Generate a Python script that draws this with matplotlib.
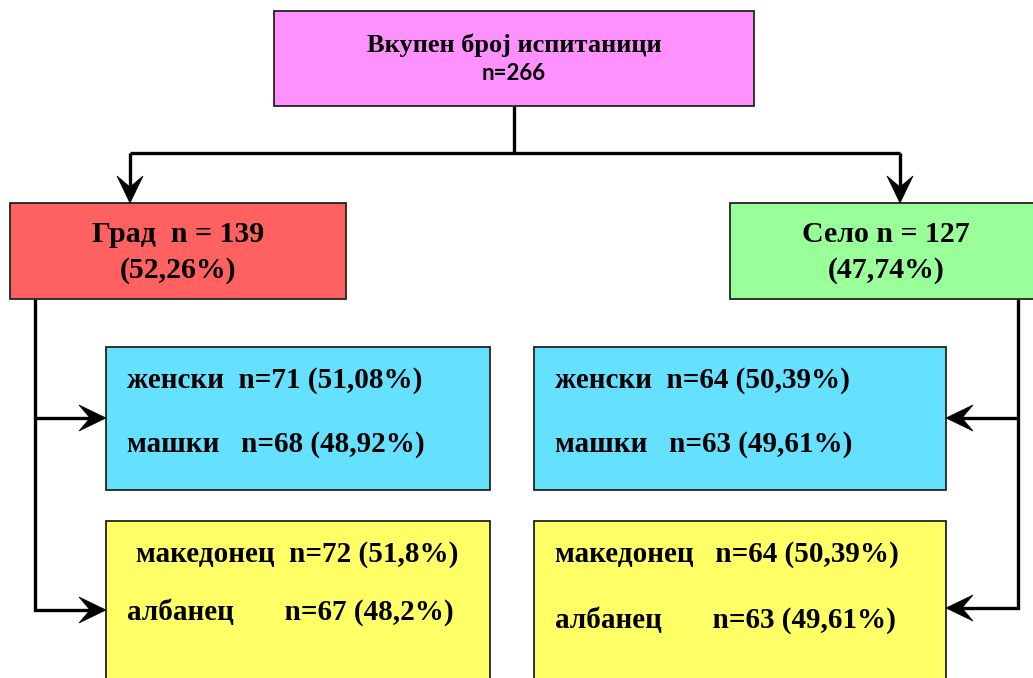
import matplotlib.pyplot as plt
from matplotlib.patches import Rectangle, Polygon

# ---------- data ----------
total_label = "Вкупен број испитаници"
total_n = 266

place_names = ["Град", "Село"]
place_n = [139, 127]
place_pct = ["52,26%", "47,74%"]

gender_names = ["женски", "машки"]
gender_n_city = [71, 68]
gender_pct_city = ["51,08%", "48,92%"]
gender_n_village = [64, 63]
gender_pct_village = ["50,39%", "49,61%"]

ethnic_names = ["македонец", "албанец"]
ethnic_n_city = [72, 67]
ethnic_pct_city = ["51,8%", "48,2%"]
ethnic_n_village = [64, 63]
ethnic_pct_village = ["50,39%", "49,61%"]

# ---------- layout (pixel coordinates) ----------
W, H = 1033, 678
fig = plt.figure(figsize=(W / 100, H / 100), dpi=100)
ax = fig.add_axes([0, 0, 1, 1])
ax.set_xlim(0, W)
ax.set_ylim(H, 0)
ax.axis('off')

serif = dict(family='Liberation Serif', fontweight='bold', color='black')
LW = 2.4
FS_BOX = 21
DY = 3  # small nudge so text centres sit like the original


def box(x0, y0, x1, y1, color):
    ax.add_patch(Rectangle((x0, y0), x1 - x0, y1 - y0, facecolor=color,
                           edgecolor='#222222', linewidth=1.3, zorder=2))


def line(xs, ys):
    ax.plot(xs, ys, color='black', linewidth=LW, solid_capstyle='butt',
            solid_joinstyle='miter', zorder=1)


def head(x, y, direction):
    # stealth style arrowhead, tip at (x, y)
    L, hw, notch = 27, 13, 11
    if direction == 'down':
        pts = [(x, y), (x - hw, y - L), (x, y - L + notch), (x + hw, y - L)]
    elif direction == 'right':
        pts = [(x, y), (x - L, y - hw), (x - L + notch, y), (x - L, y + hw)]
    else:
        pts = [(x, y), (x + L, y - hw), (x + L - notch, y), (x + L, y + hw)]
    ax.add_patch(Polygon(pts, closed=True, facecolor='black',
                         edgecolor='black', linewidth=0.5, zorder=3))


def label(x, y, s, fs=FS_BOX, ha='left'):
    ax.text(x, y + DY, s, ha=ha, va='center', fontsize=fs, zorder=4, **serif)


# top box
box(274, 11, 754, 106, '#FF91FF')
label(514, 42, total_label, fs=19, ha='center')
ax.text(514, 70 + DY, f"n={total_n}", ha='center', va='center', fontsize=16,
        family='Lato', fontweight='bold', zorder=4)

# connectors from top
line([514, 514], [106, 153])
line([130, 900], [153, 153])
line([130, 130], [153, 190])
line([900, 900], [153, 190])
head(130, 203, 'down')
head(900, 203, 'down')

# place boxes
box(10, 203, 346, 299, '#FF6161')
box(730, 203, 1040, 299, '#99FF99')
label(178, 232, f"{place_names[0]}  n = {place_n[0]}", fs=21.5, ha='center')
label(178, 267, f"({place_pct[0]})", fs=21.5, ha='center')
label(886, 232, f"{place_names[1]} n = {place_n[1]}", fs=21.5, ha='center')
label(886, 267, f"({place_pct[1]})", fs=21.5, ha='center')

# side spines
line([35, 35, 95], [299, 610, 610])
line([35, 95], [418, 418])
head(106, 418, 'right')
head(106, 610, 'right')
line([1018, 1018, 958], [299, 608, 608])
line([1018, 958], [418, 418])
head(946, 418, 'left')
head(946, 608, 'left')

# gender boxes
box(106, 347, 490, 490, '#66E0FF')
box(534, 347, 946, 490, '#66E0FF')
label(127, 378, f"{gender_names[0]}  n={gender_n_city[0]} ({gender_pct_city[0]})")
label(127, 442, f"{gender_names[1]}   n={gender_n_city[1]} ({gender_pct_city[1]})")
label(555, 378, f"{gender_names[0]}  n={gender_n_village[0]} ({gender_pct_village[0]})")
label(555, 442, f"{gender_names[1]}   n={gender_n_village[1]} ({gender_pct_village[1]})")

# ethnicity boxes
box(106, 521, 490, 690, '#FFFF66')
box(534, 521, 946, 690, '#FFFF66')
label(136, 551, f"{ethnic_names[0]}  n={ethnic_n_city[0]} ({ethnic_pct_city[0]})")
label(127, 609, f"{ethnic_names[1]}       n={ethnic_n_city[1]} ({ethnic_pct_city[1]})")
label(555, 551, f"{ethnic_names[0]}   n={ethnic_n_village[0]} ({ethnic_pct_village[0]})")
label(555, 617, f"{ethnic_names[1]}       n={ethnic_n_village[1]} ({ethnic_pct_village[1]})")

fig.savefig("out.png", dpi=100)
